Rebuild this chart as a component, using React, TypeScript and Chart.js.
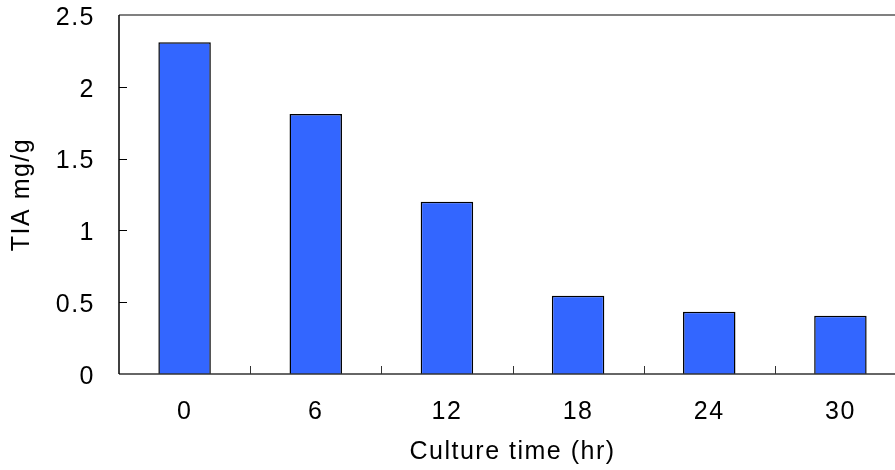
import React, { useEffect, useRef } from "react";
import { Chart, registerables } from "chart.js";

Chart.register(...registerables);

const categories = ["0", "6", "12", "18", "24", "30"];
const tiaValues = [2.31, 1.81, 1.2, 0.545, 0.434, 0.406];
const yTicks = [0, 0.5, 1, 1.5, 2, 2.5];

const FONT = "'Liberation Sans', Arial, sans-serif";
const FS = 25;

const spacingPlugin = {
  id: "spacing",
  beforeUpdate(chart: any) {
    chart.ctx.letterSpacing = "1.5px";
  },
  beforeDraw(chart: any) {
    chart.ctx.letterSpacing = "1.5px";
  },
};

const framePlugin = {
  id: "frame",
  afterDatasetsDraw(chart: any) {
    const { ctx, chartArea, scales } = chart;
    const xs = scales.x;
    const ys = scales.y;
    ctx.save();
    // top border
    ctx.strokeStyle = "#808080";
    ctx.lineWidth = 2;
    ctx.beginPath();
    ctx.moveTo(chartArea.left, chartArea.top);
    ctx.lineTo(chartArea.right + 20, chartArea.top);
    ctx.stroke();
    // bottom axis
    ctx.strokeStyle = "#333333";
    ctx.lineWidth = 1.5;
    ctx.beginPath();
    ctx.moveTo(chartArea.left, chartArea.bottom);
    ctx.lineTo(chartArea.right + 20, chartArea.bottom);
    ctx.stroke();
    // x ticks inward at category boundaries
    const step = xs.getPixelForValue(1) - xs.getPixelForValue(0);
    ctx.lineWidth = 1;
    for (let i = 1; i <= categories.length; i++) {
      const px = Math.round(xs.getPixelForValue(i) - step / 2) + 0.5;
      ctx.beginPath();
      ctx.moveTo(px, chartArea.bottom);
      ctx.lineTo(px, chartArea.bottom - 8);
      ctx.stroke();
    }
    // left axis
    ctx.strokeStyle = "#000000";
    ctx.lineWidth = 1.5;
    ctx.beginPath();
    ctx.moveTo(chartArea.left, chartArea.top);
    ctx.lineTo(chartArea.left, chartArea.bottom);
    ctx.stroke();
    // y ticks inward
    ctx.lineWidth = 1;
    for (const v of yTicks) {
      if (v === 0 || v === yTicks[yTicks.length - 1]) continue;
      const py = Math.round(ys.getPixelForValue(v)) + 0.5;
      ctx.beginPath();
      ctx.moveTo(chartArea.left, py);
      ctx.lineTo(chartArea.left + 8, py);
      ctx.stroke();
    }
    ctx.restore();
  },
};

export default function App() {
  const ref = useRef<HTMLCanvasElement | null>(null);

  useEffect(() => {
    if (!ref.current) return;
    const chart = new Chart(ref.current, {
      type: "bar",
      data: {
        labels: categories,
        datasets: [
          {
            data: tiaValues,
            backgroundColor: "#3366FF",
            borderColor: "#000000",
            borderWidth: 1.5,
            barPercentage: 0.4,
            categoryPercentage: 1,
          },
        ],
      },
      options: {
        animation: false,
        responsive: false,
        maintainAspectRatio: false,
        layout: { padding: { top: 15, right: 14, left: 0, bottom: 0 } },
        plugins: {
          legend: { display: false },
          tooltip: { enabled: false },
        },
        scales: {
          x: {
            type: "category",
            offset: true,
            grid: { display: false, drawTicks: false },
            border: { display: false },
            ticks: {
              color: "#000000",
              padding: 23,
              font: { family: FONT, size: FS },
              maxRotation: 0,
              autoSkip: false,
            },
            title: {
              display: true,
              text: "Culture time (hr)",
              color: "#000000",
              font: { family: FONT, size: FS },
              padding: { top: 0, bottom: 3 },
            },
            afterFit: (s: any) => {
              s.height = 96;
              s.paddingLeft = 0;
              s.paddingRight = 0;
            },
          },
          y: {
            min: 0,
            max: 2.5,
            afterBuildTicks: (s: any) => {
              s.ticks = yTicks.map((v) => ({ value: v }));
            },
            grid: { display: false, drawTicks: false },
            border: { display: false },
            ticks: {
              color: "#000000",
              padding: 24,
              labelOffset: 3,
              font: { family: FONT, size: FS },
              callback: (v: any) => String(v),
            },
            title: {
              display: true,
              text: "TIA mg/g",
              color: "#000000",
              font: { family: FONT, size: FS },
              padding: { top: 7, bottom: 0 },
            },
            afterFit: (s: any) => {
              s.width = 119;
              s.paddingTop = 0;
              s.paddingBottom = 0;
            },
          },
        },
      },
      plugins: [spacingPlugin, framePlugin],
    });
    return () => chart.destroy();
  }, []);

  return (
    <div
      style={{
        position: "fixed",
        left: 0,
        top: 0,
        width: 895,
        height: 470,
        overflow: "hidden",
        background: "#ffffff",
      }}
    >
      <canvas ref={ref} width={920} height={470} style={{ width: 920, height: 470 }} />
    </div>
  );
}
